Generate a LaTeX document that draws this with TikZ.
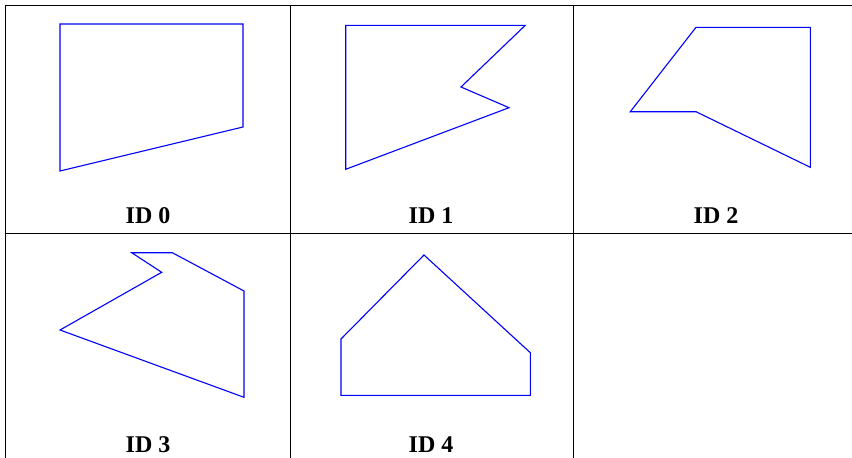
\documentclass[tikz,border=0pt]{standalone}
\usepackage{fontspec}
\setmainfont{Liberation Serif}
\begin{document}
\begin{tikzpicture}[x=1pt,y=-1pt,
  grid/.style={black,line width=1pt},
  poly/.style={blue,line width=1.1pt,line join=miter},
  lbl/.style={anchor=base,inner sep=0pt,font=\fontsize{24}{26}\selectfont\bfseries}]
\useasboundingbox (0,0) rectangle (852,458);
% grid
\draw[grid] (5,5.5) -- (852,5.5);
\draw[grid] (5,233) -- (852,233);
\draw[grid] (5,5) -- (5,458);
\draw[grid] (290,5) -- (290,458);
\draw[grid] (573,5) -- (573,458);
% polygons
\draw[poly] (60,24) -- (243,24) -- (243,127) -- (60,171) -- cycle;
\draw[poly] (345.7,25.3) -- (525.3,25.3) -- (461,87) -- (509,107.7) -- (345.7,169.3) -- cycle;
\draw[poly] (696,27.3) -- (810.3,27.3) -- (810.3,167.3) -- (696,111.7) -- (630.3,111.7) -- cycle;
\draw[poly] (131.7,252.7) -- (172.3,252.7) -- (244,291) -- (244,397.3) -- (60,330) -- (161.7,272.3) -- cycle;
\draw[poly] (424,255) -- (530.3,352.7) -- (530.3,395.3) -- (341,395.3) -- (341,339) -- cycle;
% labels
\node[lbl] (l0) at (148,223) {ID 0};
\node[lbl] (l1) at (431,223) {ID 1};
\node[lbl] (l2) at (716,223) {ID 2};
\node[lbl] (l3) at (148,452) {ID 3};
\node[lbl] (l4) at (431,452) {ID 4};
\end{tikzpicture}
\end{document}
